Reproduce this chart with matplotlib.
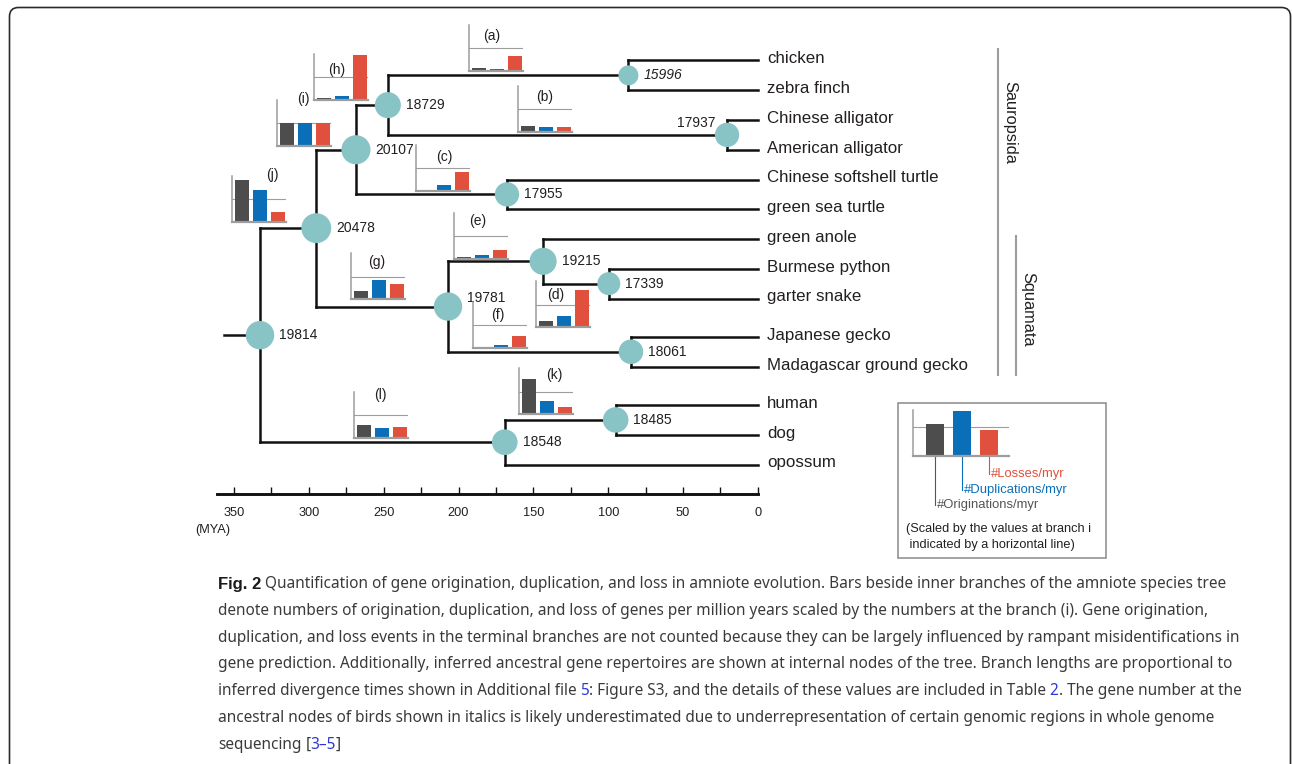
import matplotlib
matplotlib.use('Agg')
import matplotlib.pyplot as plt
from matplotlib.patches import FancyBboxPatch, Rectangle
import numpy as np

plt.rcParams['font.family'] = ['Liberation Sans', 'DejaVu Sans']

W, H = 1292, 764

# ---- data ----
leaves = ['chicken', 'zebra finch', 'Chinese alligator', 'American alligator',
          'Chinese softshell turtle', 'green sea turtle', 'green anole',
          'Burmese python', 'garter snake', 'Japanese gecko',
          'Madagascar ground gecko', 'human', 'dog', 'opossum']

# inner nodes: ancestral gene number, age (MYA), children
node_genes = [19814, 20478, 20107, 18729, 15996, 17937, 17955,
              19781, 19215, 17339, 18061, 18548, 18485]
node_mya = [332.6, 295.0, 268.5, 247.2, 86.5, 20.6, 167.6,
            207.0, 143.5, 99.6, 84.8, 169.1, 95.0]
node_children = [(20478, 18548), (20107, 19781), (18729, 17955), (15996, 17937),
                 ('chicken', 'zebra finch'), ('Chinese alligator', 'American alligator'),
                 ('Chinese softshell turtle', 'green sea turtle'), (19215, 18061),
                 ('green anole', 17339), ('Burmese python', 'garter snake'),
                 ('Japanese gecko', 'Madagascar ground gecko'), (18485, 'opossum'),
                 ('human', 'dog')]
root_start = 356.7

# rates per branch, scaled by branch (i)
branches = ['a', 'b', 'c', 'd', 'e', 'f', 'g', 'h', 'i', 'j', 'k', 'l']
orig_rate = [0.11, 0.25, 0.05, 0.30, 0.07, 0.05, 0.39, 0.08, 1.0, 1.84, 1.56, 0.55]
dup_rate = [0.06, 0.22, 0.27, 0.48, 0.17, 0.10, 0.85, 0.18, 1.0, 1.39, 0.57, 0.41]
loss_rate = [0.66, 0.23, 0.83, 1.64, 0.39, 0.50, 0.70, 2.00, 1.0, 0.44, 0.33, 0.46]
legend_rate = [1.12, 1.58, 0.91]
legend_names = ['#Originations/myr', '#Duplications/myr', '#Losses/myr']

major_ticks = [350, 300, 250, 200, 150, 100, 50, 0]
minor_ticks = [325, 275, 225, 175, 125, 75, 25]

# ---- styles / layout ----
txt_c = '#231f20'
line_c = '#111111'
node_c = '#88c3c6'
bar_c = ['#4d4d4d', '#0a6fb8', '#e0503c']
frame_gray = '#9d9d9d'


def fx(x):
    return x / W


def fy(y):
    return 1 - y / H


fig = plt.figure(figsize=(W / 100, H / 100), dpi=100)

# pixel layer for frame, caption, legend box
lay = fig.add_axes([0, 0, 1, 1])
lay.set_xlim(0, W)
lay.set_ylim(H, 0)
lay.axis('off')

lay.add_patch(FancyBboxPatch((9.5, 7.5), 1281, 820,
                             boxstyle='round,pad=0,rounding_size=9',
                             fc='none', ec='#2b2b2b', lw=1.2, clip_on=False))

# main tree axes (x in MYA)
ax = fig.add_axes([fx(216.6), fy(494), (757.9 - 216.6) / W, (494 - 40) / H])
ax.set_xlim(361.6, 0)
ax.set_ylim(14.571, -0.689)
ax.patch.set_alpha(0)
for s in ['left', 'right', 'top']:
    ax.spines[s].set_visible(False)
ax.spines['bottom'].set_linewidth(2.1)
ax.spines['bottom'].set_color(line_c)
ax.set_yticks([])
ax.set_xticks(major_ticks)
ax.set_xticks(minor_ticks, minor=True)
ax.tick_params(axis='x', which='both', direction='in', length=5, width=1.0,
               color=line_c, labelsize=9.2, labelcolor=txt_c, pad=9)

# leaf rows with small gaps between clades
ypos = {}
xage = {}
for i, name in enumerate(leaves):
    ypos[name] = i + 0.29 * (i >= 9) + 0.29 * (i >= 11)
    xage[name] = 0.0
children = dict(zip(node_genes, node_children))
for g, a in zip(node_genes, node_mya):
    xage[g] = a


def get_y(n):
    if n not in ypos:
        ypos[n] = np.mean([get_y(c) for c in children[n]])
    return ypos[n]


get_y(node_genes[0])

tree_lw = 1.8
kw = dict(color=line_c, lw=tree_lw, solid_capstyle='projecting', clip_on=False, zorder=2)
ax.plot([root_start, xage[node_genes[0]]], [ypos[node_genes[0]]] * 2, **kw)
for g in node_genes:
    kids = children[g]
    ax.plot([xage[g], xage[g]], [ypos[kids[0]], ypos[kids[1]]], **kw)
    for k in kids:
        ax.plot([xage[g], xage[k]], [ypos[k], ypos[k]], **kw)

# node circles and ancestral gene numbers
diam = {g: 20 + (g - 15996) * 0.00221 for g in node_genes}
ax.scatter([xage[g] for g in node_genes], [ypos[g] for g in node_genes],
           s=[(diam[g] * 0.72) ** 2 for g in node_genes], color=node_c,
           zorder=4, clip_on=False, linewidths=0)
label_shift = {17937: (-12, 12, 'right'), 19781: (18.5, 9, 'left')}
for g in node_genes:
    dx, dy, ha = label_shift.get(g, (diam[g] / 2 + 5, 0, 'left'))
    ax.annotate(str(g), xy=(xage[g], ypos[g]), xytext=(dx * 0.72, dy * 0.72),
                textcoords='offset points', ha=ha, va='center', fontsize=10,
                color=txt_c, style='italic' if g == 15996 else 'normal',
                annotation_clip=False)

# leaf labels
for name in leaves:
    ax.annotate(name, xy=(0, ypos[name]), xytext=(9 * 0.72, 1.1),
                textcoords='offset points', ha='left', va='center',
                fontsize=12.2, color=txt_c, annotation_clip=False)

lay.text(213, 530, '(MYA)', ha='center', va='center', fontsize=9.2, color=txt_c)

# clade bars
lay.plot([997.7, 997.7], [49, 375], color=frame_gray, lw=1.5)
lay.plot([1015.7, 1015.7], [236, 375], color=frame_gray, lw=1.5)
lay.text(1010, 122, 'Sauropsida', rotation=270, ha='center', va='center',
         fontsize=11.8, color=txt_c)
lay.text(1028, 309, 'Squamata', rotation=270, ha='center', va='center',
         fontsize=11.8, color=txt_c)


def draw_bars(iax, vals, width, xlim, ymax):
    iax.bar([0, 1, 2], vals, width=width, color=bar_c, clip_on=False, zorder=2)
    iax.axhline(1, color=frame_gray, lw=0.8, zorder=1)
    iax.set_xlim(*xlim)
    iax.set_ylim(0, ymax)
    iax.patch.set_alpha(0)
    iax.set_xticks([])
    iax.set_yticks([])
    iax.spines['top'].set_visible(False)
    iax.spines['right'].set_visible(False)
    iax.spines['left'].set_color(frame_gray)
    iax.spines['left'].set_linewidth(1.1)
    iax.spines['bottom'].set_color(frame_gray)
    iax.spines['bottom'].set_linewidth(1.6)


# inset positions: left, bottom in pixels; label position in axes fraction
inset_pos = {'a': (469.3, 70.7), 'b': (517.7, 131.7), 'c': (416, 191),
             'd': (535.7, 327.3), 'e': (454, 259), 'f': (472.7, 347.7),
             'g': (350.7, 299.3), 'h': (314.3, 100), 'i': (277.3, 145.7),
             'j': (232.3, 221.7), 'k': (519, 414.3), 'l': (354.3, 437.7)}
label_pos = {'a': (0.415, 0.76), 'b': (0.49, 0.75), 'c': (0.52, 0.74),
             'd': (0.37, 0.70), 'e': (0.44, 0.83), 'f': (0.47, 0.71),
             'g': (0.48, 0.82), 'h': (0.41, 0.65), 'i': (0.48, 1.02),
             'j': (0.75, 1.02), 'k': (0.65, 0.85), 'l': (0.49, 0.93)}

for k, b in enumerate(branches):
    x0, y0 = inset_pos[b]
    iax = fig.add_axes([fx(x0), fy(y0), 54 / W, 46 / H])
    draw_bars(iax, [orig_rate[k], dup_rate[k], loss_rate[k]], 0.778,
              (-0.556, 2.444), 2.04)
    lx, ly = label_pos[b]
    iax.text(lx, ly, '(%s)' % b, transform=iax.transAxes, ha='center',
             va='center', fontsize=10, color=txt_c, clip_on=False)

# legend
lay.add_patch(Rectangle((898.3, 402.7), 207.4, 155.6, fc='none',
                        ec='#8a8a8a', lw=1.1))
lax = fig.add_axes([fx(913.3), fy(455.7), 96 / W, 45.7 / H])
draw_bars(lax, legend_rate, 0.667, (-0.815, 2.74), 1.615)
lead_end = [-1.74, -1.21, -0.66]
lead_col = ['#555555', bar_c[1], bar_c[2]]
for k in range(3):
    lax.plot([k, k], [0, lead_end[k]], color=lead_col[k], lw=0.8, clip_on=False)
    lax.annotate(legend_names[k], xy=(k, lead_end[k]), xytext=(1, 0),
                 textcoords='offset points', ha='left', va='center',
                 fontsize=9.4, color=lead_col[k], annotation_clip=False)
lay.text(905.7, 529, '(Scaled by the values at branch i', ha='left',
         va='center', fontsize=9.2, color=txt_c)
lay.text(905.7, 545, ' indicated by a horizontal line)', ha='left',
         va='center', fontsize=9.2, color=txt_c)

# caption
cap_c = '#3a3a3a'
link_c = '#2f36d8'
caption = [
    [('Fig. 2', '#1a1a1a', 'bold'),
     (' Quantification of gene origination, duplication, and loss in amniote evolution. '
      'Bars beside inner branches of the amniote species tree', cap_c, 'normal')],
    [('denote numbers of origination, duplication, and loss of genes per million years '
      'scaled by the numbers at the branch (i). Gene origination,', cap_c, 'normal')],
    [('duplication, and loss events in the terminal branches are not counted because they '
      'can be largely influenced by rampant misidentifications in', cap_c, 'normal')],
    [('gene prediction. Additionally, inferred ancestral gene repertoires are shown at '
      'internal nodes of the tree. Branch lengths are proportional to', cap_c, 'normal')],
    [('inferred divergence times shown in Additional file', cap_c, 'normal'),
     (' 5', link_c, 'normal'),
     (': Figure S3, and the details of these values are included in Table', cap_c, 'normal'),
     (' 2', link_c, 'normal'),
     ('. The gene number at the', cap_c, 'normal')],
    [('ancestral nodes of birds shown in italics is likely underestimated due to '
      'underrepresentation of certain genomic regions in whole genome', cap_c, 'normal')],
    [('sequencing', cap_c, 'normal'), (' [', cap_c, 'normal'),
     ('3–5', link_c, 'normal'), (']', cap_c, 'normal')],
]
cap_y = [584, 611, 638, 664.5, 691, 718, 745]
cap_font = ['Noto Sans', 'DejaVu Sans']
bold_font = ['Liberation Sans', 'DejaVu Sans']
cap_size = 12.5
cap_texts = []
line_ends = []
for parts, y in zip(caption, cap_y):
    prev = None
    for s, c, wt in parts:
        fam = bold_font if wt == 'bold' else cap_font
        size = cap_size * 1.08 if wt == 'bold' else cap_size
        if prev is None:
            prev = lay.text(218, y, s, color=c, fontweight=wt, fontsize=size,
                            family=fam, ha='left', va='center')
        else:
            prev = lay.annotate(s, xy=(1, 0), xycoords=prev, ha='left', va='bottom',
                                color=c, fontweight=wt, fontsize=size,
                                family=fam)
        cap_texts.append(prev)
    line_ends.append(prev)

# fit caption size so the first line spans the same width as the reference
renderer = fig.canvas.get_renderer()
right = line_ends[0].get_window_extent(renderer).x1
scale = (1226 - 218) / (right - 218)
for t in cap_texts:
    t.set_fontsize(t.get_fontsize() * scale)

fig.savefig('out.png', dpi=100)
